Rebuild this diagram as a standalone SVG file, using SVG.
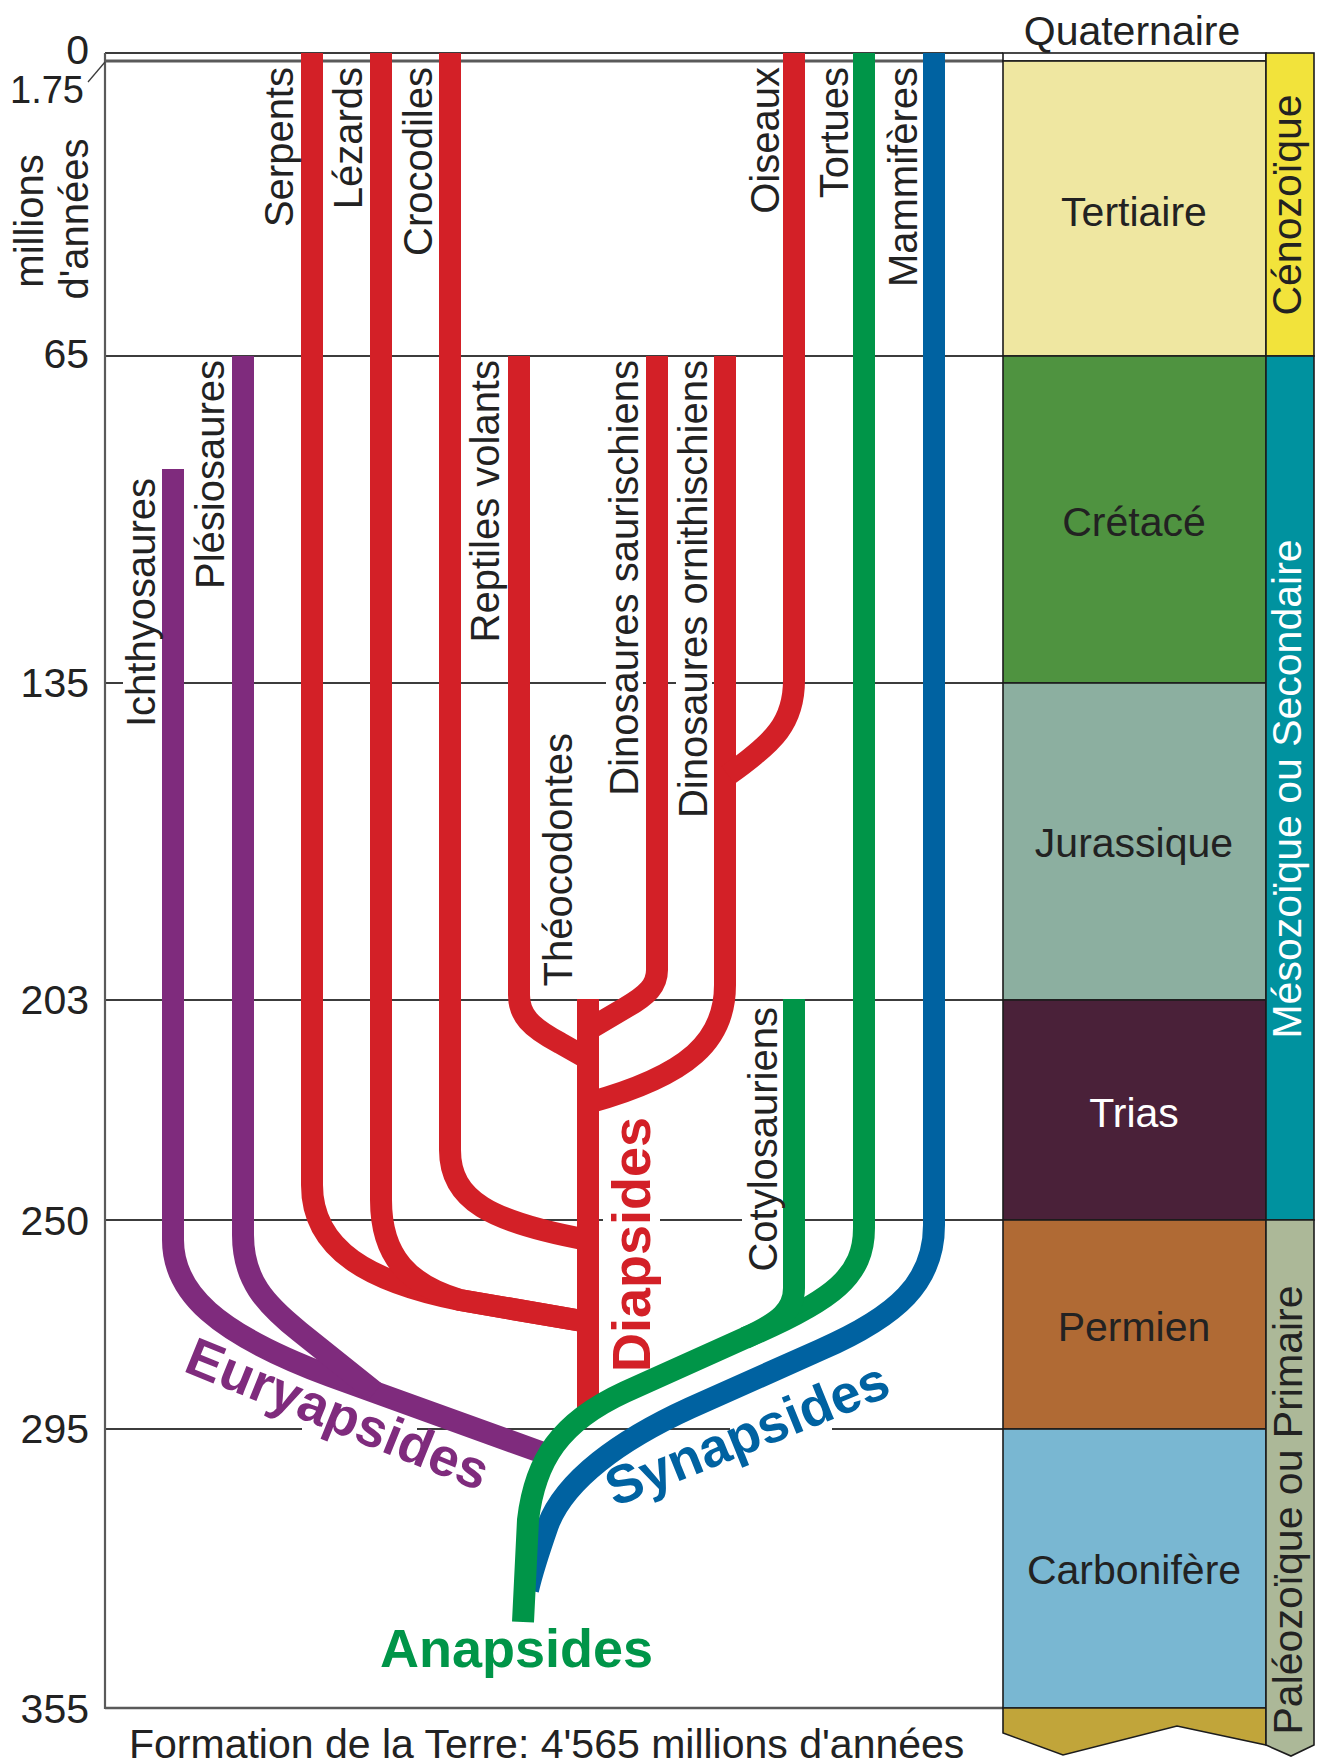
<svg xmlns="http://www.w3.org/2000/svg" width="1321" height="1764" viewBox="0 0 1321 1764">
<style>
.t{font-family:"Liberation Sans",Arial,Helvetica,sans-serif;fill:#222}
.s40{font-size:40px}
.s41{font-size:41px}
.b{font-size:54px;font-weight:bold}
.m{text-anchor:middle}
.e{text-anchor:end}
.tl{stroke:#3c3c3c;stroke-width:1.8;fill:none}
.ln{fill:none;stroke-width:22;stroke-linejoin:round;stroke-linecap:butt}
.red{stroke:#d32027}
.pur{stroke:#7f2b7d}
.grn{stroke:#009548}
.blu{stroke:#0062a1}
.box{stroke:#1c1c1c;stroke-width:1.6}
</style>
<rect width="1321" height="1764" fill="#ffffff"/>

<g id="timelines" class="tl">
<line x1="105" y1="53" x2="1003" y2="53"/>
<line x1="105" y1="61" x2="1003" y2="61" stroke="#5a5a5a" stroke-width="3.2"/>
<line x1="105" y1="356" x2="1003" y2="356"/>
<path d="M105,683H123M163,683H606M643,683H676M712,683H1003"/>
<line x1="105" y1="1000" x2="1003" y2="1000"/>
<path d="M105,1220H603M660,1220H742M783,1220H1003"/>
<path d="M105,1429H302M417,1429H730M832,1429H1003"/>
<line x1="105" y1="1708" x2="1003" y2="1708" stroke="#5a5a5a" stroke-width="2.6"/>
<line x1="105" y1="53" x2="105" y2="1709" stroke="#5a5a5a" stroke-width="2.2"/>
<line x1="88" y1="82" x2="105" y2="62" stroke-width="1.3"/>
</g>

<g id="axis-labels" class="t s41">
<text class="e" x="89" y="64">0</text>
<text class="e" x="84" y="103" font-size="38">1.75</text>
<text class="e" x="89" y="368">65</text>
<text class="e" x="89" y="697">135</text>
<text class="e" x="89" y="1014">203</text>
<text class="e" x="89" y="1235">250</text>
<text class="e" x="89" y="1443">295</text>
<text class="e" x="89" y="1723">355</text>
<text class="m s40" transform="translate(43,221) rotate(-90)">millions</text>
<text class="m s40" transform="translate(88,219) rotate(-90)">d'années</text>
<text x="129" y="1758">Formation de la Terre: 4'565 millions d'années</text>
</g>

<g id="geologic-column" class="box">
<rect id="quaternaire" x="1003" y="53" width="263" height="8" fill="#ffffff"/>
<rect id="tertiaire" x="1003" y="61" width="263" height="295" fill="#efe7a1"/>
<rect id="cretace" x="1003" y="356" width="263" height="327" fill="#4f9340"/>
<rect id="jurassique" x="1003" y="683" width="263" height="317" fill="#8cafa0"/>
<rect id="trias" x="1003" y="1000" width="263" height="220" fill="#4a2139"/>
<rect id="permien" x="1003" y="1220" width="263" height="209" fill="#b06a34"/>
<rect id="carbonifere" x="1003" y="1429" width="263" height="279" fill="#79b7d2"/>
<polygon id="base" points="1003,1708 1266,1708 1266,1745 1177,1726 1063,1755 1003,1733" fill="#c1a53a"/>
<rect id="cenozoique" x="1266" y="53" width="48" height="303" fill="#f2e33b"/>
<rect id="mesozoique" x="1266" y="356" width="48" height="864" fill="#00929f"/>
<polygon id="paleozoique" points="1266,1220 1314,1220 1314,1745 1291,1756 1266,1745" fill="#acb898"/>
</g>

<g id="column-labels" class="t s41">
<text class="m" x="1132" y="45">Quaternaire</text>
<text class="m" x="1134" y="226">Tertiaire</text>
<text class="m" x="1134" y="536">Crétacé</text>
<text class="m" x="1134" y="857">Jurassique</text>
<text class="m" x="1134" y="1127" fill="#ffffff">Trias</text>
<text class="m" x="1134" y="1341">Permien</text>
<text class="m" x="1134" y="1584">Carbonifère</text>
<text class="m" transform="translate(1301,205) rotate(-90)">Cénozoïque</text>
<text class="m" transform="translate(1301,789) rotate(-90)" fill="#ffffff">Mésozoïque ou Secondaire</text>
<text class="m" transform="translate(1302,1510) rotate(-90)">Paléozoïque ou Primaire</text>
</g>

<g id="connectors">
<g id="euryapsides-branches" class="ln pur">
<path id="ichthyosaures" d="M173,469V1240C173,1292 215,1333 330,1376L549,1455"/>
<path id="plesiosaures" d="M243,356V1235C243,1280 265,1304 300,1332L375,1392"/>
</g>
<g id="diapsides-branches" class="ln red">
<path id="serpents" d="M312,53V1185C312,1250 370,1282 460,1300L588,1322"/>
<path id="lezards" d="M381,53V1200C381,1258 410,1285 460,1300L588,1322"/>
<path id="crocodiles" d="M450,53V1150C450,1200 490,1222 588,1240"/>
<path id="reptiles-volants" d="M519,356V995C519,1015 530,1027 560,1043L590,1060"/>
<path id="saurischiens" d="M657,356V970C657,985 648,995 625,1008L586,1031"/>
<path id="ornithischiens" d="M725,356V985C725,1040 690,1075 588,1103"/>
<path id="oiseaux" d="M794,53V680C794,722 775,742 728,775"/>
<path id="diapsides-trunk" d="M588,999V1418"/>
</g>
<g id="synapsides-branch" class="ln blu">
<path id="mammiferes" d="M934,53V1225C934,1282 898,1316 820,1350L690,1408C620,1440 565,1480 548,1525C540,1548 533,1568 528,1590"/>
</g>
<g id="anapsides-branches" class="ln grn">
<path id="tortues" d="M864,53V1228C864,1275 835,1300 745,1338"/>
<path id="cotylosauriens" d="M794,999V1288C794,1310 780,1322 745,1338L625,1392C560,1422 535,1460 528,1520L523,1622"/>
</g>
</g>

<g id="taxon-labels" class="t s40">
<text class="e" transform="translate(293,67) rotate(-90)">Serpents</text>
<text class="e" transform="translate(362,67) rotate(-90)">Lézards</text>
<text class="e" transform="translate(432,67) rotate(-90)">Crocodiles</text>
<text class="e" transform="translate(779,67) rotate(-90)">Oiseaux</text>
<text class="e" transform="translate(848,67) rotate(-90)">Tortues</text>
<text class="e" transform="translate(917,67) rotate(-90)">Mammifères</text>
<text class="e" transform="translate(224,360) rotate(-90)">Plésiosaures</text>
<text class="e" transform="translate(155,478) rotate(-90)">Ichthyosaures</text>
<text class="e" transform="translate(499,360) rotate(-90)">Reptiles volants</text>
<text class="e" transform="translate(638,360) rotate(-90)">Dinosaures saurischiens</text>
<text class="e" transform="translate(707,360) rotate(-90)">Dinosaures ornithischiens</text>
<text class="e" transform="translate(572,733) rotate(-90)">Théocodontes</text>
<text class="e" transform="translate(777,1007) rotate(-90)">Cotylosauriens</text>
</g>

<g id="group-labels" class="t b">
<text class="m" transform="translate(331,1431) rotate(22)" fill="#7f2b7d">Euryapsides</text>
<text transform="translate(650,1372) rotate(-90)" fill="#d32027">Diapsides</text>
<text class="m" transform="translate(754,1451) rotate(-22)" fill="#0062a1">Synapsides</text>
<text x="380" y="1667" fill="#009548">Anapsides</text>
</g>
</svg>
